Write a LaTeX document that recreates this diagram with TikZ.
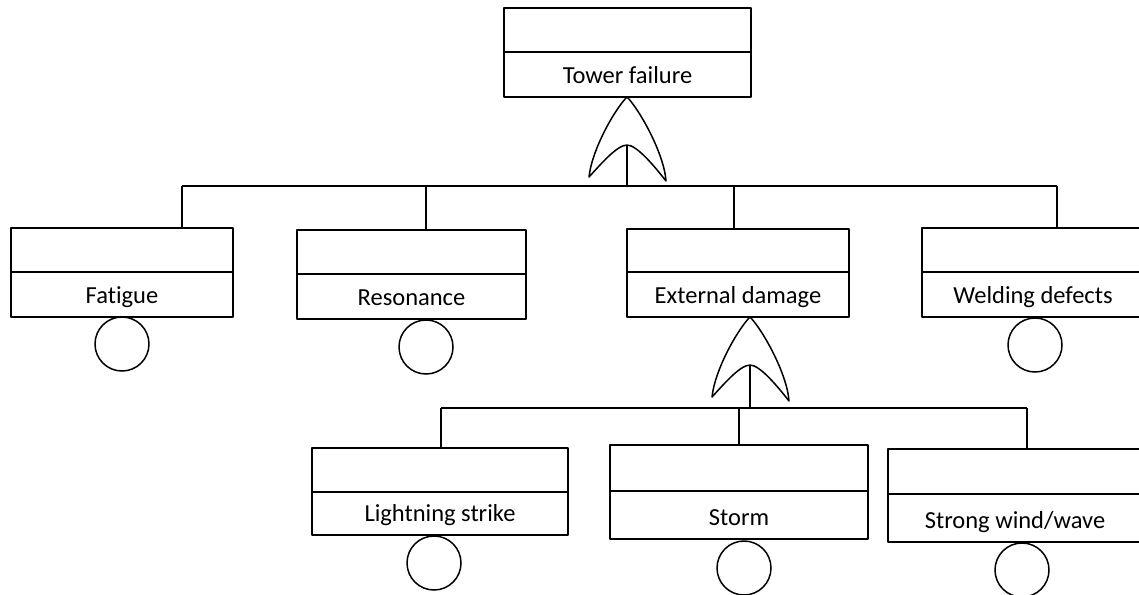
\documentclass[tikz,border=0pt]{standalone}
\usepackage{fontspec}
\setmainfont{Carlito}[Ligatures=NoCommon]
\usetikzlibrary{calc}
% event box: name, x1, y1, x2, y-divider, y2, label
\newcommand\evbox[7]{%
  \node[evt, minimum width={#4-#2}, minimum height={#6-#3}] (#1) at ({(#2+#4)/2},{(#3+#6)/2}) {};
  \draw ({#2},{#5}) -- ({#4},{#5});
  \node[lbl, anchor=base] (#1-t) at ({(#2+#4)/2},{#6-14}) {#7};%
}
\begin{document}
\begin{tikzpicture}[x=1pt,y=-1pt, line width=1.5pt, line join=round,
  evt/.style={draw, rectangle, inner sep=0pt, line width=1.5pt},
  lbl/.style={font=\fontsize{24.5}{29}\selectfont, inner sep=0pt},
  basic/.style={draw, circle, minimum size=54pt, inner sep=0pt, line width=1.5pt},
  andgate/.pic={
    \draw (0,0) .. controls (-12,12) and (-35,52) .. (-38,80)
          .. controls (-27,68) and (-10,48) .. (0,48)
          .. controls (10,48) and (28,70) .. (39,84)
          .. controls (37,56) and (12,12) .. (0,0) -- cycle;
    \coordinate (-in) at (0,48);
  }]
\useasboundingbox (0,0) rectangle (1139,594);

% top event
\evbox{top}{504}{8}{751}{52}{97}{Tower failure}
\pic (g1) at (627,97) {andgate};

% first level
\evbox{fat}{11}{228}{233}{272}{317}{Fatigue}
\evbox{res}{297}{230}{526}{274}{319}{Resonance}
\evbox{ext}{627}{229}{849}{272}{317}{External damage}
\evbox{wel}{922}{228}{1144}{272}{317}{Welding defects}

\coordinate (b1) at (182,186);
\coordinate (b2) at (426,186);
\coordinate (b3) at (734,186);
\coordinate (b4) at (1057,186);
\draw (g1-in) -- (g1-in |- b1);
\draw (b1) -- (b4);
\draw (b1) -- (b1 |- fat.north);
\draw (b2) -- (b2 |- res.north);
\draw (b3) -- (b3 |- ext.north);
\draw (b4) -- (b4 |- wel.north);

\node[basic] (fat-c) at (122,344) {};
\node[basic] (res-c) at (426,347) {};
\node[basic] (wel-c) at (1035,345) {};

% second level under external damage
\pic (g2) at (750,317) {andgate};
\evbox{lig}{312}{448}{568}{492}{535}{Lightning strike}
\evbox{sto}{610}{445}{868}{491}{539}{Storm}
\evbox{win}{888}{449}{1142}{494}{542}{Strong wind/wave}

\coordinate (c1) at (441,408);
\coordinate (c2) at (739,408);
\coordinate (c3) at (1027,408);
\draw (g2-in) -- (g2-in |- c1);
\draw (c1) -- (c3);
\draw (c1) -- (c1 |- lig.north);
\draw (c2) -- (c2 |- sto.north);
\draw (c3) -- (c3 |- win.north);

\node[basic] (lig-c) at (434,563) {};
\node[basic] (sto-c) at (744,568) {};
\node[basic] (win-c) at (1022,570) {};
\end{tikzpicture}
\end{document}
